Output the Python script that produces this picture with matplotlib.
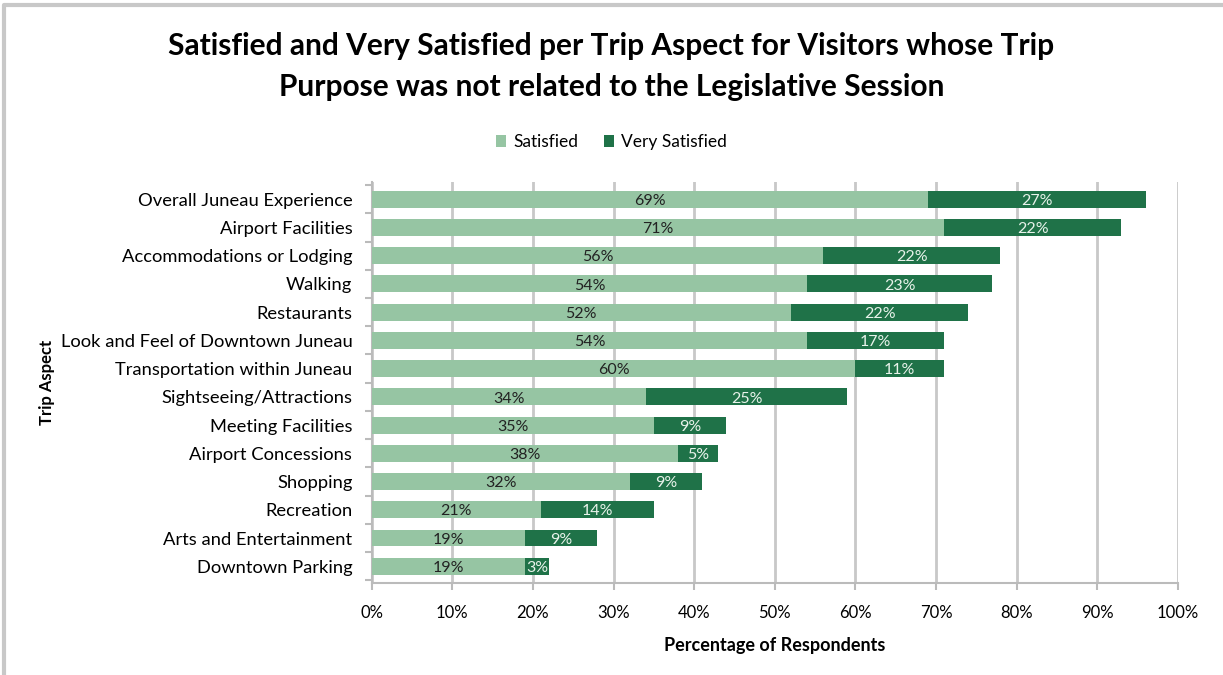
import matplotlib.pyplot as plt
import numpy as np
from matplotlib.lines import Line2D

plt.rcParams['font.family'] = ['Lato', 'DejaVu Sans']

# Trip aspects, top to bottom as shown
aspects = ["Overall Juneau Experience", "Airport Facilities", "Accommodations or Lodging",
           "Walking", "Restaurants", "Look and Feel of Downtown Juneau",
           "Transportation within Juneau", "Sightseeing/Attractions", "Meeting Facilities",
           "Airport Concessions", "Shopping", "Recreation", "Arts and Entertainment",
           "Downtown Parking"]
satisfied = [69, 71, 56, 54, 52, 54, 60, 34, 35, 38, 32, 21, 19, 19]
very_satisfied = [27, 22, 22, 23, 22, 17, 11, 25, 9, 5, 9, 14, 9, 3]

light = "#96C5A3"
dark = "#1F7248"

fig = plt.figure(figsize=(12.23, 6.75), dpi=100)
ax = fig.add_axes([0.304, 0.136, 0.659, 0.594])

y = np.arange(len(aspects))[::-1]
b1 = ax.barh(y, satisfied, height=0.6, color=light, label="Satisfied", zorder=3)
b2 = ax.barh(y, very_satisfied, left=satisfied, height=0.6, color=dark,
             label="Very Satisfied", zorder=3)

for yi, s, v in zip(y, satisfied, very_satisfied):
    ax.text(s / 2, yi - 0.06, f"{s}%", ha="center", va="center", fontsize=11.5,
            color="#222222", zorder=4)
    ax.text(s + v / 2, yi - 0.06, f"{v}%", ha="center", va="center", fontsize=11.5,
            color="#E8F2EA", zorder=4)

ax.set_xlim(0, 100)
ax.set_ylim(-0.6, len(aspects) - 0.4)
ax.set_xticks(np.arange(0, 101, 10))
ax.set_xticklabels([f"{t}%" for t in range(0, 101, 10)], fontsize=12)
ax.set_yticks(y)
ax.set_yticklabels(aspects, fontsize=13.2)
ax.set_yticks(np.arange(-0.5, len(aspects), 1), minor=True)
ax.tick_params(axis="y", which="major", length=0, pad=14)
ax.tick_params(axis="y", which="minor", length=5, color="#BBBBBB", width=1.5)
ax.tick_params(axis="x", length=5, color="#BBBBBB", width=1.5, pad=11)

ax.grid(axis="x", color="#C8C8C8", linewidth=2, zorder=0)
for side in ["top", "right"]:
    ax.spines[side].set_visible(False)
for side in ["left", "bottom"]:
    ax.spines[side].set_color("#BBBBBB")
    ax.spines[side].set_linewidth(1.5)

ax.set_xlabel("Percentage of Respondents", fontsize=13, fontweight="bold", labelpad=11)
ax.set_ylabel("Trip Aspect", fontsize=12, fontweight="bold", labelpad=4)

fig.suptitle("Satisfied and Very Satisfied per Trip Aspect for Visitors whose Trip\n"
             "Purpose was not related to the Legislative Session",
             x=0.5, y=0.952, fontsize=21.5, fontweight="bold", linespacing=1.55)

fig.legend(handles=[b1, b2], loc="center", bbox_to_anchor=(0.5, 0.79), ncol=2,
           frameon=False, fontsize=12.5, handlelength=0.6, handleheight=0.7,
           columnspacing=1.5, handletextpad=0.4)

# light grey frame along the top and left edge
fig.lines.append(Line2D([0.003, 0.003, 1.0], [0.0, 0.992, 0.992], transform=fig.transFigure,
                        color="#C8C8C8", linewidth=3))

fig.savefig("out.png", dpi=100)
